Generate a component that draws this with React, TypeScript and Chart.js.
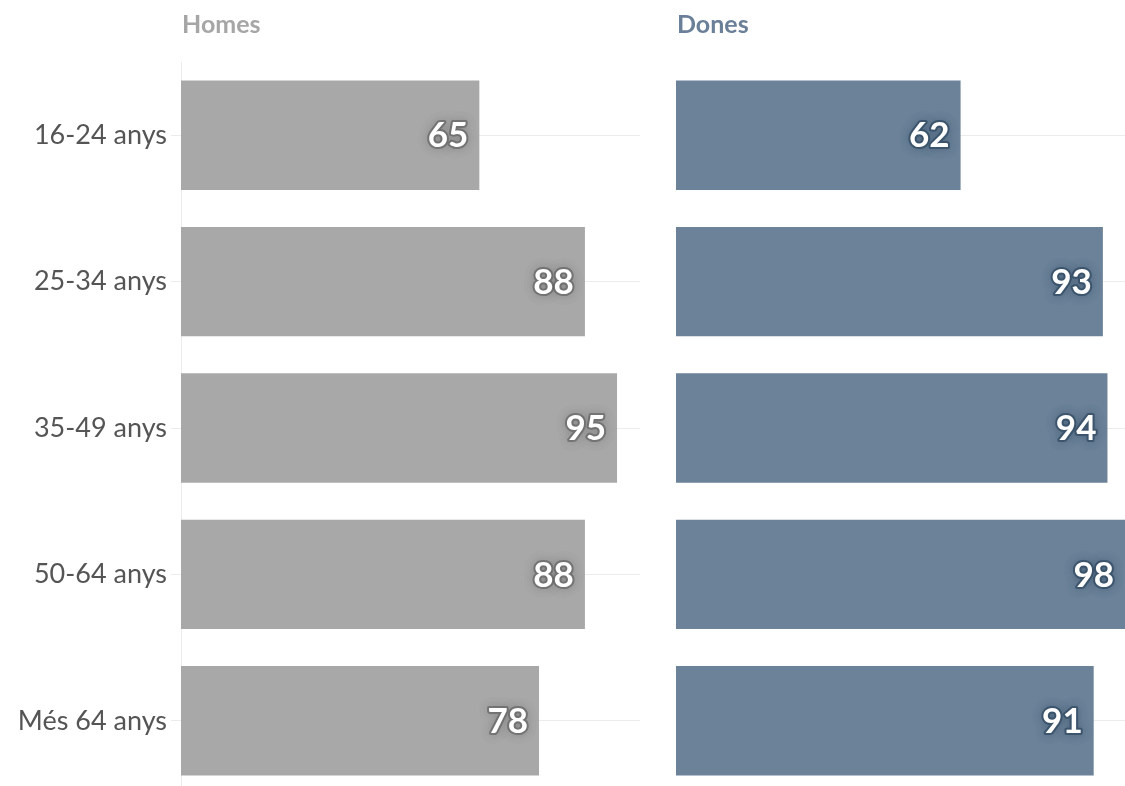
import React, { useEffect, useRef } from "react";
import { Chart, registerables } from "chart.js";

Chart.register(...registerables);

const categories = ["16-24 anys", "25-34 anys", "35-49 anys", "50-64 anys", "Més 64 anys"];
const homesValues = [65, 88, 95, 88, 78];
const donesValues = [62, 93, 94, 98, 91];
const panelTitles = ["Homes", "Dones"];

const FONT = "Lato, 'Source Sans Pro', 'Noto Sans', sans-serif";

function makeChart(
  canvas: HTMLCanvasElement,
  values: number[],
  title: string,
  barColor: string,
  titleColor: string,
  haloColor: string,
  showLabels: boolean
) {
  const overlay = {
    id: "overlay" + title,
    afterDatasetsDraw(chart: any) {
      const ctx = chart.ctx;
      const area = chart.chartArea;
      ctx.save();
      // panel title
      ctx.font = `bold 25px ${FONT}`;
      ctx.fillStyle = titleColor;
      ctx.textAlign = "left";
      ctx.textBaseline = "middle";
      ctx.fillText(title, area.left + 1, 25);
      // value labels
      const meta = chart.getDatasetMeta(0);
      ctx.font = `bold 35px ${FONT}`;
      ctx.textAlign = "right";
      ctx.textBaseline = "middle";
      meta.data.forEach((bar: any, i: number) => {
        const x = Math.min(bar.x, 1125 - chart.canvas.offsetLeft) - 11;
        const y = bar.y + 1;
        const txt = String(values[i]);
        ctx.lineJoin = "round";
        ctx.shadowColor = haloColor;
        ctx.shadowBlur = 10;
        ctx.strokeStyle = haloColor;
        ctx.lineWidth = 4;
        ctx.strokeText(txt, x, y);
        ctx.strokeText(txt, x, y);
        ctx.shadowBlur = 0;
        ctx.fillStyle = "#ffffff";
        ctx.fillText(txt, x, y);
      });
      ctx.restore();
    },
  };

  return new Chart(canvas, {
    type: "bar",
    data: {
      labels: categories,
      datasets: [
        {
          data: values,
          backgroundColor: barColor,
          borderWidth: 0,
          categoryPercentage: 1,
          barPercentage: 0.747,
        },
      ],
    },
    options: {
      indexAxis: "y",
      animation: false,
      responsive: false,
      maintainAspectRatio: false,
      layout: { padding: { top: 62, bottom: 6, right: showLabels ? 10 : 5, left: showLabels ? 0 : 16 } },
      plugins: { legend: { display: false }, tooltip: { enabled: false }, title: { display: false } },
      scales: {
        x: { display: false, min: 0, max: 100 },
        y: {
          afterFit: (scale: any) => {
            if (showLabels) scale.width = 181;
            scale.paddingTop = 0;
            scale.paddingBottom = 0;
          },
          grid: {
            offset: false,
            color: "#ececec",
            lineWidth: 1,
            drawTicks: showLabels,
            tickLength: 10,
          },
          border: { display: showLabels, color: "#ececec" },
          ticks: {
            display: showLabels,
            color: "#555555",
            font: { family: FONT, size: 27 },
            padding: 4,
          },
        },
      },
    },
    plugins: [overlay],
  } as any);
}

export default function App() {
  const leftRef = useRef<HTMLCanvasElement>(null);
  const rightRef = useRef<HTMLCanvasElement>(null);

  useEffect(() => {
    document.body.style.margin = "0";
    const c1 = makeChart(leftRef.current!, homesValues, panelTitles[0], "#a8a8a8", "#a6a6a6", "rgba(100,100,100,0.45)", true);
    const c2 = makeChart(rightRef.current!, donesValues, panelTitles[1], "#6b8299", "#6a8099", "rgba(50,75,100,0.5)", false);
    return () => {
      c1.destroy();
      c2.destroy();
    };
  }, []);

  return (
    <div style={{ position: "fixed", left: 0, top: 0, width: 1125, height: 786, overflow: "hidden", background: "#fff" }}>
      <canvas ref={leftRef} width={650} height={800} style={{ position: "absolute", left: 0, top: 0 }} />
      <canvas ref={rightRef} width={480} height={800} style={{ position: "absolute", left: 660, top: 0 }} />
    </div>
  );
}
